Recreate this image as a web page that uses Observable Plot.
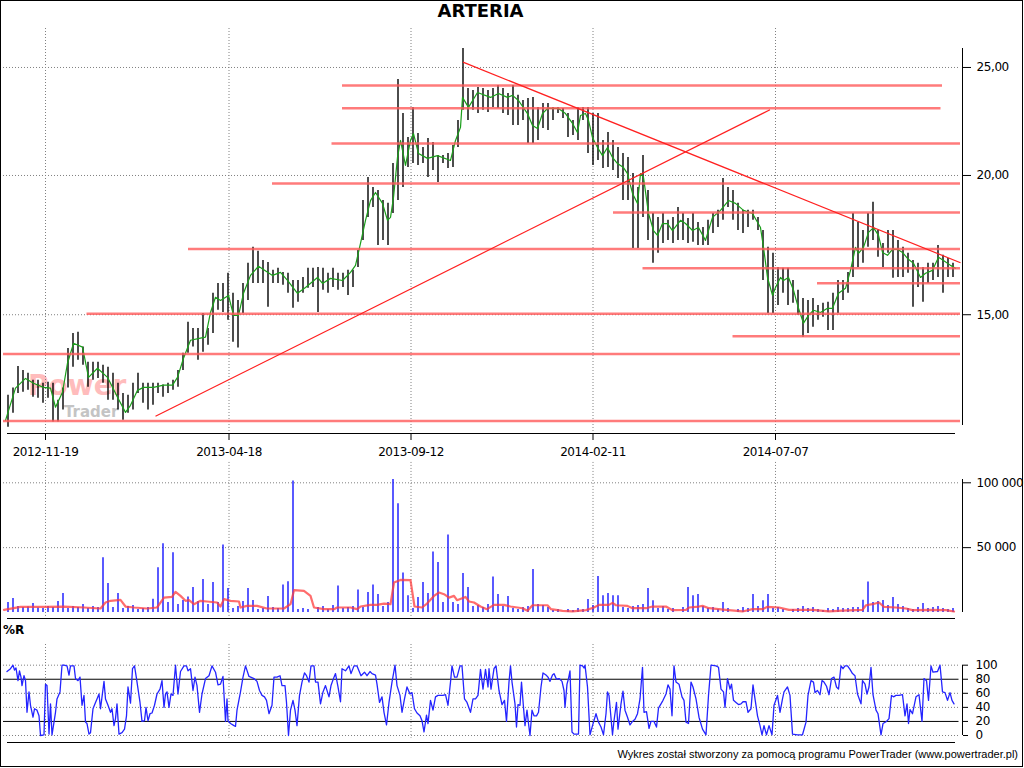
<!DOCTYPE html>
<html>
<head>
<meta charset="utf-8">
<script src="https://cdn.jsdelivr.net/npm/d3@7"></script>
<script src="https://cdn.jsdelivr.net/npm/@observablehq/plot@0.6"></script>
<style>
html,body{margin:0;padding:0;background:#fff;}
#wrap{position:relative;width:1024px;height:768px;overflow:hidden;font-family:"DejaVu Sans",sans-serif;}
#wrap svg{position:absolute;left:0;}
.frame{position:absolute;left:0;top:0;width:1023px;height:767px;border:1px solid #000;box-sizing:border-box;pointer-events:none;}
.title{position:absolute;left:0;top:1px;width:961px;text-align:center;font:bold 18px/20px "DejaVu Sans",sans-serif;}
.wr{position:absolute;left:3px;top:623px;font:bold 12px/14px "DejaVu Sans",sans-serif;}
.caption{position:absolute;right:6px;top:748px;font:11px/13px "Liberation Sans",sans-serif;white-space:nowrap;}
.wm1{position:absolute;left:28px;top:370px;font:bold 28px/32.6px "DejaVu Sans",sans-serif;color:#ffbcbc;white-space:nowrap;}
.wm2{position:absolute;left:64px;top:403.5px;font:bold 15px/17.5px "DejaVu Sans",sans-serif;color:#c4c4c4;white-space:nowrap;}
</style>
</head>
<body>
<div id="wrap">
  <div class="wm1">Power</div>
  <div class="wm2">Trader</div>
  <div class="title" id="title">ARTERIA</div>
  <div class="wr">%R</div>
  <div class="caption">Wykres został stworzony za pomocą programu PowerTrader (www.powertrader.pl)</div>
  <div class="frame"></div>
</div>
<script>
// ---------- x axis (bar index) ----------
const tickIdx = [7.5, 44.2, 80.6, 117.0, 153.5];
const tickLabels = ["2012-11-19", "2013-04-18", "2013-09-12", "2014-02-11", "2014-07-07"];

// ---------- price bars (high / low) ----------
const hi = [12.70,12.89,13.48,13.37,13.29,13.10,13.10,13.02,13.05,13.02,
12.57,12.89,13.99,14.43,14.47,14.03,13.60,13.60,13.60,13.51,
13.46,13.29,13.02,12.75,12.70,13.02,13.29,13.02,13.02,13.02,
13.02,12.97,13.02,13.10,13.37,13.85,14.77,14.58,14.58,15.04,
14.58,15.68,16.00,16.00,16.34,15.68,15.45,16.00,16.68,17.24,
17.10,16.78,16.71,16.44,16.51,16.37,16.34,16.10,16.10,16.20,
16.51,16.51,16.54,16.51,16.34,16.51,16.34,16.34,16.44,16.44,
17.13,18.99,19.92,19.51,19.39,18.99,18.88,20.50,24.39,22.73,
21.63,23.02,21.81,21.19,21.59,21.41,20.84,20.84,20.93,21.28,
22.41,26.00,23.94,23.84,23.99,23.94,23.84,23.94,24.09,23.94,
23.69,24.09,23.60,23.35,23.45,23.50,23.02,23.21,23.21,23.02,
23.02,22.97,22.73,22.41,23.02,23.02,23.02,22.73,22.73,21.50,
21.86,21.50,21.19,20.93,20.76,20.08,19.51,20.84,19.39,18.49,
18.34,18.49,18.23,18.34,18.72,18.49,18.30,18.49,18.15,17.96,
18.23,18.49,18.61,19.88,19.51,19.39,18.88,18.61,18.61,18.61,
18.34,17.85,17.24,17.03,16.54,16.51,16.51,16.10,15.78,15.51,
15.45,15.51,15.29,15.36,15.39,15.68,16.10,16.10,16.37,18.49,
18.15,17.85,18.49,18.92,17.85,17.38,17.85,17.85,17.49,17.24,
17.03,16.78,16.68,16.54,16.68,16.68,17.31,16.96,16.85,16.68];
const lo = [11.89,12.24,12.75,12.78,12.83,12.65,12.62,12.49,12.62,12.02,
12.02,12.32,12.89,13.46,13.65,13.51,12.91,13.10,13.15,13.02,
12.57,12.57,12.32,12.06,12.24,12.32,12.75,12.49,12.32,12.44,
12.75,12.65,12.75,12.83,12.91,13.37,13.85,14.03,13.65,13.88,
14.08,14.43,15.14,15.07,14.83,14.17,14.00,15.04,15.45,16.00,
16.00,16.00,15.23,16.00,16.00,15.94,15.68,15.20,15.39,15.68,
15.84,15.87,15.07,15.78,15.68,15.87,15.78,15.87,15.61,15.87,
16.54,17.49,18.34,18.72,17.31,17.49,17.31,18.49,18.99,19.51,
20.33,20.50,20.42,20.50,19.92,20.21,19.71,20.50,20.29,20.33,
21.19,22.88,22.41,22.88,22.73,22.88,22.78,23.02,22.97,22.73,
22.64,22.18,22.18,22.41,21.37,21.37,21.50,22.04,21.95,22.41,
22.73,22.50,21.63,21.72,21.50,22.41,20.93,20.42,20.63,20.29,
20.33,20.21,19.88,18.99,18.99,17.20,17.20,18.34,17.49,16.68,
17.03,17.38,17.49,17.38,17.49,17.49,17.38,17.42,17.31,17.31,
17.31,17.74,17.96,18.23,18.72,18.23,17.85,17.74,17.96,18.23,
17.85,16.10,15.04,15.04,15.29,15.68,15.29,15.36,14.98,14.32,
14.43,14.62,14.83,14.92,14.52,14.52,15.04,15.45,15.68,16.20,
16.54,16.68,17.24,17.49,16.89,16.54,17.03,16.17,16.20,16.20,
16.34,15.23,15.87,15.39,16.00,16.10,16.20,15.68,16.20,16.20];

// ---------- green moving average ----------
const greenT = [-0.5,1.5,3.5,5.1,7.1,8.5,9.5,10.9,11.9,13.1,14.9,16.1,17.9,19.9,21.9,23.5,24.5,25.9,27.1,29.1,31.1,32.9,33.9,35.1,36.5,38.5,39.5,40.5,41.5,42.5,44.1,45.1,46.1,47.1,48.5,50.1,52.9,54.5,55.9,57.9,59.5,61.9,62.9,64.5,66.9,68.5,69.5,70.5,71.5,72.5,73.5,74.9,75.9,76.5,77.1,77.9,78.5,79.5,80.5,81.1,82.1,83.9,85.9,88.5,89.5,90.5,90.9,92.1,93.9,96.5,98.1,99.9,100.9,102.1,103.9,104.9,105.9,106.9,107.9,110.1,111.5,112.9,113.9,114.5,115.5,116.1,116.9,117.9,118.9,119.9,120.9,121.9,123.1,123.9,124.9,125.9,126.5,127.1,128.1,129.1,129.9,130.9,131.9,132.9,134.5,135.5,136.9,138.1,139.5,140.9,142.5,144.1,145.5,147.1,148.9,150.5,151.1,151.9,152.9,153.5,154.5,155.1,156.1,157.1,158.1,159.1,160.1,161.1,162.5,163.9,164.9,166.1,167.5,168.5,169.5,170.1,171.1,172.1,173.1,174.1,174.9,175.9,176.9,177.9,178.9,179.9,181.1,182.5,183.5,184.9,186.1,187.1,188.5,189.5];
const greenP = [12.06,12.89,13.15,13.02,12.91,12.89,12.39,12.78,13.57,14.14,14.03,13.18,13.43,13.18,12.65,12.26,12.44,12.83,12.91,12.91,12.97,12.97,13.18,13.71,14.23,14.29,14.32,15.07,15.55,15.45,15.61,14.98,14.98,15.68,16.27,16.58,16.27,16.37,16.10,15.68,15.87,16.20,16.00,16.17,16.10,16.37,16.61,17.38,18.23,18.99,19.31,18.88,18.23,18.34,19.11,20.76,21.50,20.42,21.50,21.81,20.93,20.72,20.84,20.63,21.50,22.09,23.50,23.02,23.74,23.50,23.69,23.50,23.60,23.35,22.73,22.18,22.04,22.73,22.97,22.97,22.73,22.27,21.86,22.64,22.73,22.41,21.63,21.19,20.84,21.19,20.76,20.50,20.33,20.08,19.27,18.88,20.08,19.92,18.49,17.85,17.67,18.11,18.11,17.85,18.23,18.11,17.85,17.96,17.49,18.34,18.61,18.99,18.88,18.61,18.49,17.96,17.24,16.20,15.61,15.87,16.20,16.10,16.20,15.78,15.20,14.74,14.98,15.14,15.07,15.20,15.20,15.68,15.84,16.44,17.24,17.03,17.24,17.78,17.96,17.67,17.06,16.96,17.17,17.17,17.06,16.85,16.68,16.20,16.34,16.44,16.89,16.78,16.61,16.51];

// ---------- support / resistance levels and trend lines ----------
const levelPrice = [24.09,22.98,21.37,19.67,18.53,17.18,16.51,16.01,15.03,14.35,13.83,12.04];
const levelFrom  = [66.9,66.9,64.8,52.9,121.1,36.1,127.0,161.9,15.8,145.0,-0.9,-0.9];
const levelTo    = [186.9,186.6,190.5,190.5,190.5,190.5,190.5,190.5,190.5,190.5,190.5,190.5];
const trendFromT = [29.5, 91.0];
const trendFromP = [12.16, 25.28];
const trendToT   = [152.4, 190.5];
const trendToP   = [22.91, 16.70];
const priceTicks = [15, 20, 25];

// ---------- volume (thousands of shares) ----------
const vol = [7.7,10.8,4.6,3.8,4.2,6.9,3.5,3.1,4.6,3.8,
8.5,14.6,3.1,4.6,3.8,6.2,3.1,4.6,3.8,42.3,
22.3,3.8,14.6,3.1,4.6,5.4,2.3,3.1,3.8,10.3,
34.6,53.1,7.7,46.1,6.2,9.2,12.0,19.2,8.5,25.4,
6.2,23.1,7.7,52.0,18.5,3.1,4.6,8.5,18.5,9.2,
2.3,3.1,12.3,3.8,3.1,21.3,23.8,101.3,2.3,3.1,
2.3,0,3.8,4.6,2.3,5.4,20.5,3.1,3.8,4.6,
17.4,3.8,15.4,21.3,13.8,4.6,7.7,102.6,83.8,30.5,
13.0,3.1,11.5,23.1,14.6,46.7,38.5,7.7,59.7,7.7,
6.2,30.0,19.2,4.6,5.4,3.8,6.2,27.4,13.8,4.6,
12.3,3.1,2.3,3.8,4.6,33.1,6.2,5.4,3.8,1.5,
2.3,0,2.3,1.5,3.1,2.3,10.0,5.4,27.7,13.0,
14.6,13.0,13.0,3.8,3.1,4.6,5.4,6.2,18.5,9.0,
3.1,4.6,2.3,3.1,0,3.8,19.2,13.0,13.8,4.6,
3.1,3.8,2.3,7.7,3.1,0,2.3,3.8,3.1,13.8,
4.6,9.0,13.8,3.1,3.8,2.3,0,2.3,3.1,4.6,
3.1,3.8,2.3,1.5,3.1,2.3,3.8,3.1,3.1,3.8,
3.8,9.5,23.6,7.7,8.5,9.2,5.4,11.5,6.2,4.6,
3.1,2.3,3.8,6.9,3.1,3.8,4.6,3.1,2.3,3.1];
const volMa = [[-0.8,2.05],[2.5,4.36],[7.2,4.36],[11.2,4.6],[15.2,3.85],[18.5,3.08],[19.5,7.7],[20.5,9.0],[22.5,9.7],[23.5,4.6],[25.2,3.85],[27.8,3.08],[29.8,3.85],[31.2,11.5],[32.8,12.0],[33.5,15.9],[34.5,12.8],[35.5,9.0],[36.2,9.5],[37.2,6.4],[38.5,9.0],[39.8,8.5],[41.8,7.7],[42.5,4.6],[43.2,10.3],[44.5,9.0],[46.2,8.5],[46.5,3.85],[47.8,5.1],[49.8,5.1],[51.8,3.08],[55.2,3.08],[56.5,6.4],[57.2,17.2],[59.2,16.7],[60.5,12.8],[61.2,3.85],[63.2,2.56],[65.2,2.56],[65.8,3.85],[68.5,3.85],[69.8,2.56],[70.5,4.6],[72.5,5.9],[73.8,5.9],[75.2,6.9],[76.5,6.4],[77.2,23.1],[78.5,25.1],[80.5,24.9],[81.3,4.6],[82.8,3.85],[83.8,6.9],[85.2,12.8],[86.2,15.4],[87.2,14.1],[88.2,11.5],[89.2,12.8],[89.8,9.5],[91.5,12.0],[92.2,8.5],[93.2,7.7],[94.5,4.6],[95.8,2.56],[97.2,5.9],[99.2,5.9],[100.5,4.6],[102.9,3.3],[103.9,1.3],[104.9,5.6],[107.9,5.6],[108.6,2.56],[110.9,1.3],[112.9,0.8],[115.6,1.8],[117.2,3.85],[118.2,5.9],[120.2,5.9],[120.9,7.4],[121.6,5.6],[123.9,5.1],[124.9,3.3],[127.6,3.3],[128.9,4.6],[131.6,4.6],[132.9,1.8],[135.6,2.05],[136.2,3.85],[138.2,4.6],[138.9,5.1],[140.2,3.3],[143.6,2.05],[146.9,0.8],[148.9,2.56],[150.9,2.56],[151.9,4.36],[154.2,3.85],[156.2,2.05],[160.9,2.05],[164.2,0.8],[166.9,1.5],[169.6,1.8],[170.9,2.05],[171.6,5.6],[172.9,6.4],[174.2,7.7],[175.2,4.36],[177.6,3.85],[179.6,3.08],[180.9,1.8],[184.2,2.05],[187.6,1.8],[189.2,0.8]];
const volTicks = [50000, 100000];

// ---------- Williams %R ----------
const wrPts = [[-0.2,91],[0.5,95],[1.0,100],[1.3,93],[1.6,96],[2.0,78],[2.3,92],[2.6,83],[2.8,71],[3.2,85],[3.5,78],[3.8,33],[4.2,62],[4.5,43],[5.0,26],[5.3,38],[5.8,36],[6.2,28],[6.5,0],[7.2,1],[7.5,73],[7.8,71],[8.2,2],[8.5,45],[8.8,1],[9.2,19],[9.5,33],[9.8,52],[10.4,62],[10.8,100],[11.2,100],[11.8,99],[12.2,86],[12.5,99],[13.2,99],[13.5,81],[14.0,78],[14.4,83],[14.8,43],[15.2,57],[15.5,19],[15.8,17],[16.2,2],[16.5,4],[17.0,38],[17.5,47],[17.8,52],[18.2,59],[18.5,38],[19.2,77],[19.5,52],[20.0,43],[20.5,33],[20.8,38],[21.2,14],[21.5,24],[21.8,45],[22.2,2],[22.8,4],[23.3,9],[23.7,28],[24.0,69],[24.5,46],[24.9,95],[25.3,99],[25.7,81],[26.4,47],[26.8,20],[27.3,21],[27.6,40],[28.0,21],[28.4,31],[28.8,32],[29.3,43],[29.8,59],[30.4,66],[30.8,78],[31.2,40],[31.5,59],[31.8,62],[32.2,40],[32.6,59],[33.0,57],[33.5,100],[34.0,59],[34.5,91],[35.2,99],[35.7,99],[36.0,92],[36.5,95],[37.0,64],[37.4,83],[37.8,71],[38.3,33],[38.8,59],[39.5,81],[40.2,85],[40.8,99],[41.5,90],[42.0,72],[42.5,73],[43.0,84],[43.5,20],[43.8,52],[44.0,21],[44.5,17],[45.2,14],[45.5,13],[45.8,36],[46.5,62],[47.0,83],[47.5,99],[48.2,84],[49.2,81],[49.8,77],[50.3,64],[50.8,57],[51.3,55],[51.7,50],[52.2,31],[52.8,43],[53.2,83],[53.8,83],[54.4,85],[54.8,71],[55.4,71],[55.7,47],[56.1,0],[56.5,36],[57.0,50],[57.4,36],[57.8,14],[58.3,57],[58.8,76],[59.3,89],[59.7,85],[60.2,76],[60.6,99],[61.2,99],[61.5,76],[62.0,76],[62.5,45],[63.0,62],[63.5,71],[64.2,55],[64.6,71],[65.2,83],[65.5,88],[66.0,69],[66.5,48],[66.8,95],[67.5,92],[68.2,99],[68.6,88],[69.2,99],[69.8,99],[70.6,85],[71.3,90],[71.8,85],[72.4,91],[72.8,88],[73.5,86],[73.8,73],[74.3,47],[74.8,55],[75.2,33],[75.7,15],[76.2,47],[76.8,76],[77.4,100],[77.8,71],[78.4,57],[78.8,33],[79.3,52],[79.8,69],[80.4,59],[80.8,61],[81.3,38],[81.8,32],[82.4,28],[82.8,21],[83.2,5],[83.7,29],[84.0,17],[84.5,50],[85.0,36],[85.5,55],[86.0,57],[86.5,57],[87.0,57],[87.5,58],[88.0,43],[88.5,76],[88.8,99],[89.3,83],[89.8,83],[90.4,99],[90.8,99],[91.3,52],[91.8,47],[92.5,33],[93.0,52],[93.5,52],[94.0,57],[94.5,94],[95.0,66],[95.5,94],[96.0,69],[96.2,95],[96.6,66],[97.2,95],[97.6,99],[98.2,64],[98.8,44],[99.3,50],[99.7,20],[100.2,76],[100.5,99],[100.8,76],
[101.4,45],[101.7,12],[102.0,44],[102.4,43],[102.7,76],[103.1,40],[103.4,14],[103.8,36],[104.1,17],[104.4,0],[104.8,36],[105.2,28],[105.7,28],[106.1,33],[106.6,69],[107.0,89],[107.6,86],[108.0,83],[108.4,77],[108.9,86],[109.2,88],[109.7,80],[110.2,81],[110.8,77],[111.2,64],[111.4,40],[111.8,73],[112.1,81],[112.4,92],[112.8,5],[113.2,2],[114.1,2],[114.4,100],[114.9,99],[115.2,96],[115.4,100],[115.9,69],[116.4,1],[116.9,14],[117.6,31],[118.1,19],[118.6,12],[119.1,1],[119.6,31],[119.9,62],[120.2,57],[120.9,1],[121.2,21],[121.7,47],[122.0,9],[122.6,45],[123.0,63],[123.4,36],[123.9,26],[124.4,15],[124.9,20],[125.4,23],[125.9,31],[126.4,52],[126.9,97],[127.2,33],[127.7,34],[128.2,10],[128.6,20],[129.2,20],[129.7,12],[130.1,39],[130.6,45],[131.0,50],[131.6,59],[132.0,72],[132.4,66],[132.8,28],[133.2,99],[133.6,76],[134.2,73],[134.8,55],[135.2,50],[135.6,19],[136.1,17],[136.6,76],[137.0,69],[137.6,52],[138.2,26],[138.9,9],[139.6,1],[140.1,57],[140.6,100],[141.6,99],[142.1,97],[142.6,66],[143.1,62],[143.4,40],[143.9,81],[144.4,66],[144.7,73],[145.1,50],[145.6,47],[146.1,44],[146.6,45],[147.0,48],[147.6,48],[148.0,33],[148.6,38],[149.0,72],[149.4,52],[149.9,28],[150.4,14],[150.8,1],[151.2,14],[151.7,1],[152.2,14],[152.8,1],[153.2,43],[153.9,57],[154.4,33],[154.9,52],[155.2,62],[155.9,69],[156.4,57],[156.9,2],[157.9,1],[158.9,1],[159.6,19],[160.0,57],[160.6,78],[161.1,76],[161.4,61],[161.9,64],[162.4,58],[162.8,78],[163.2,76],[163.7,70],[164.2,58],[164.7,81],[165.2,83],[165.7,69],[166.1,66],[166.6,99],[167.0,95],[167.4,99],[167.9,99],[168.4,94],[168.9,88],[169.4,85],[169.9,59],[170.6,45],[170.9,78],[171.4,73],[171.8,59],[172.2,69],[172.6,97],[173.0,58],[173.6,36],[174.0,31],[174.6,1],[175.0,17],[175.7,20],[176.2,24],[176.7,57],[177.1,55],[177.6,57],[178.2,57],[178.9,58],[179.4,28],[179.8,45],[180.1,17],[180.4,37],[180.9,31],[181.6,55],[182.2,58],[182.8,20],[183.2,81],[183.7,78],[184.1,50],[184.6,99],[185.0,90],[185.9,91],[186.4,100],[186.9,62],[187.4,61],[187.9,50],[188.4,61],[188.8,50],[189.2,45]];
const wrTicks = [0, 20, 40, 60, 80, 100];
const wrBands = [20, 80];
const wrGrid = [0, 40, 60, 100];

// ---------- build ----------
const X_DOMAIN = [-1.5, 190.9];
const AXIS_END = 190.9, GRID_L = -0.9, GRID_R = 190.5, BASE_L = -0.1, BASE_R = 189.5;
const baseStyle = {background: "transparent", overflow: "visible", fontFamily: "'DejaVu Sans', sans-serif", fontSize: "12px", color: "#000", letterSpacing: "-0.4px"};
const dotted = {stroke: "#808080", strokeDasharray: "1,2", strokeWidth: 1};
const idx = d3.range(hi.length);
const greenData = greenT.map((t, i) => ({t, p: greenP[i]}));
const levels = levelPrice.map((p, i) => ({p, from: levelFrom[i], to: levelTo[i]}));
const trends = trendFromT.map((t, i) => ({x1: t, y1: trendFromP[i], x2: trendToT[i], y2: trendToP[i]}));
const space = d => d3.format(",")(d).replace(/,/g, " ");

const pricePlot = Plot.plot({
  width: 1024, height: 460, marginLeft: 0, marginRight: 62, marginTop: 0, marginBottom: 27,
  style: baseStyle,
  x: {domain: X_DOMAIN},
  y: {type: "log", domain: [11.736, 28.71]},
  marks: [
    Plot.ruleY(priceTicks, {x1: GRID_L, x2: GRID_R, ...dotted}),
    Plot.ruleX(tickIdx, {insetTop: 28, insetBottom: 1, ...dotted}),
    Plot.ruleX(idx, {x: d => d, y1: d => lo[d], y2: d => hi[d], stroke: "#000", strokeWidth: 1.4}),
    Plot.line(greenData, {x: "t", y: "p", stroke: "#1a9e1a", strokeWidth: 1.2}),
    Plot.ruleY(levels, {y: "p", x1: "from", x2: "to", stroke: "#ff5a5a", strokeOpacity: 0.8, strokeWidth: 2.5}),
    Plot.link(trends, {x1: "x1", y1: "y1", x2: "x2", y2: "y2", stroke: "#ff2020", strokeWidth: 1.2}),
    Plot.ruleY([11.736], {x1: BASE_L, x2: BASE_R, stroke: "#000"}),
    Plot.ruleX([AXIS_END], {insetTop: 48, insetBottom: 8, stroke: "#000"}),
    Plot.axisY(priceTicks, {anchor: "right", label: null, tickSize: 8, tickPadding: 6, tickFormat: d => d.toFixed(2).replace(".", ",")}),
    Plot.axisX(tickIdx, {anchor: "bottom", label: null, tickSize: 7, tickPadding: 7, tickFormat: d => tickLabels[tickIdx.indexOf(d)]})
  ]
});
pricePlot.style.top = "0px";

const volData = idx.map(i => ({i, v: vol[i] * 1000}));
const volMaData = volMa.map(([t, v]) => ({t, v: v * 1000}));
const volPlot = Plot.plot({
  width: 1024, height: 160, marginLeft: 0, marginRight: 62, marginTop: 0, marginBottom: 8,
  style: baseStyle,
  x: {domain: X_DOMAIN, axis: null},
  y: {domain: [0, 117200]},
  marks: [
    Plot.ruleY(volTicks, {x1: GRID_L, x2: 190.2, ...dotted}),
    Plot.ruleX(tickIdx, {y1: 115700, y2: -3860, ...dotted}),
    Plot.ruleX(volData.filter(d => d.v > 0), {x: "i", y1: 0, y2: "v", stroke: "#0000ff", strokeWidth: 1.3}),
    Plot.line(volMaData, {x: "t", y: "v", stroke: "#ff3c3c", strokeOpacity: 0.75, strokeWidth: 2.2}),
    Plot.ruleY([0], {dy: 6, x1: BASE_L, x2: BASE_R, stroke: "#000"}),
    Plot.ruleX([AXIS_END], {insetTop: 19, stroke: "#000"}),
    Plot.axisY(volTicks, {anchor: "right", label: null, tickSize: 8, tickPadding: 6, tickFormat: space})
  ]
});
volPlot.style.top = "460px";

const wrData = wrPts.map(([t, v]) => ({t, v}));
const wrPlot = Plot.plot({
  width: 1024, height: 146, marginLeft: 0, marginRight: 62, marginTop: 0, marginBottom: 33,
  style: baseStyle,
  x: {domain: X_DOMAIN, axis: null},
  y: {domain: [0, 160.7]},
  marks: [
    Plot.ruleY(wrGrid, {x1: GRID_L, x2: 190.2, ...dotted}),
    Plot.ruleY(wrBands, {x1: GRID_L, x2: 190.2, stroke: "#000"}),
    Plot.ruleX(tickIdx, {y1: 129.4, y2: -3.8, ...dotted}),
    Plot.line(wrData, {x: "t", y: "v", stroke: "#2424ff", strokeWidth: 1.3}),
    Plot.ruleY([0], {dy: 7, x1: BASE_L, x2: BASE_R, stroke: "#000"}),
    Plot.ruleX([AXIS_END], {y1: 0, y2: 100, stroke: "#000"}),
    Plot.axisY(wrTicks, {anchor: "right", label: null, tickSize: 5, tickPadding: 8})
  ]
});
wrPlot.style.top = "622px";

const wrap = document.getElementById("wrap");
const titleEl = document.getElementById("title");
[pricePlot, volPlot, wrPlot].forEach(s => wrap.insertBefore(s, titleEl));
</script>
</body>
</html>
